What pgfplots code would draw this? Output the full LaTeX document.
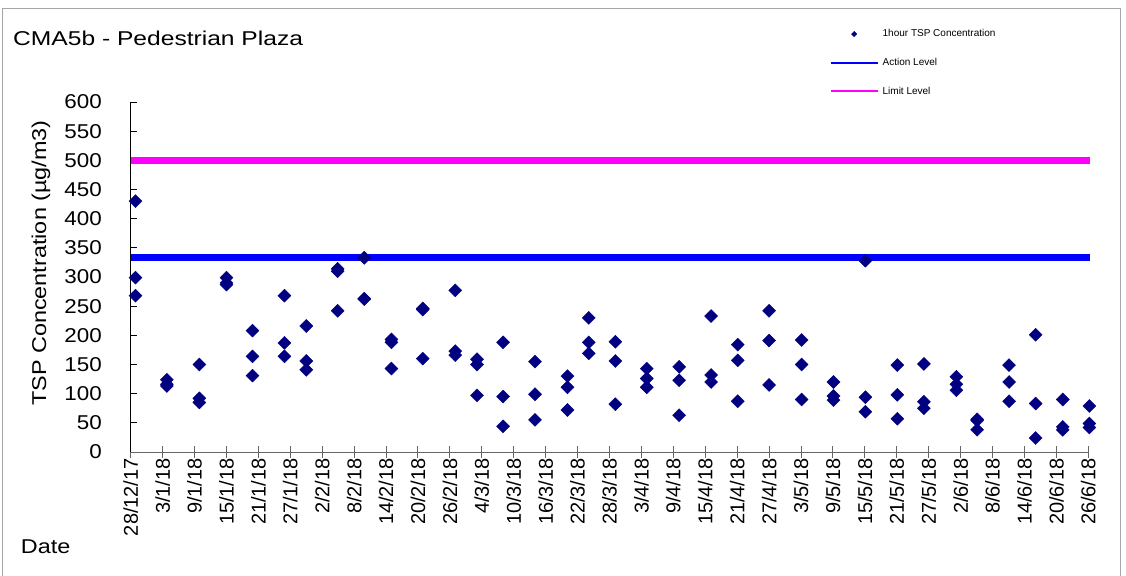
\documentclass[border=0pt]{standalone}
\usepackage{pgfplots}
\pgfplotsset{compat=1.18}
\usepackage{fontspec}
\setmainfont{Liberation Sans}
\usepackage{graphicx}
\definecolor{navyd}{RGB}{0,0,128}
\definecolor{actblue}{RGB}{0,0,255}
\definecolor{limmag}{RGB}{255,0,255}
\pgfplotstableread{
x y
0.9 430
0.9 299
0.9 268
6.8 124
6.8 116
6.8 113
12.9 150
12.9 92
12.9 85
18.0 299
18.0 290
18.0 287
22.9 208
22.9 164
22.9 131
28.9 268
28.9 187
28.9 164
33.0 216
33.0 156
33.0 141
38.9 314
38.9 310
38.9 242
43.9 333
43.9 263
43.9 262
49.0 193
49.0 188
49.0 143
54.9 246
54.9 244
54.9 160
61.0 277
61.0 173
61.0 166
65.1 159
65.1 150
65.1 97
70.0 188
70.0 95
70.0 44
76.0 155
76.0 99
76.0 55
82.1 130
82.1 111
82.1 72
86.1 230
86.1 188
86.1 169
91.1 189
91.1 156
91.1 82
97.0 143
97.0 126
97.0 111
103.1 146
103.1 123
103.1 63
109.1 233
109.1 132
109.1 120
114.1 184
114.1 157
114.1 87
120.0 242
120.0 191
120.0 115
126.1 192
126.1 150
126.1 90
132.1 120
132.1 96
132.1 89
138.1 328
138.1 94
138.1 69
144.1 149
144.1 98
144.1 57
149.1 151
149.1 86
149.1 75
155.2 129
155.2 116
155.2 106
159.1 56
159.1 54
159.1 38
165.1 149
165.1 120
165.1 87
170.1 201
170.1 83
170.1 24
175.2 90
175.2 43
175.2 38
180.2 79
180.2 49
180.2 42
}\tspdata
\begin{document}
\begin{tikzpicture}
\useasboundingbox (0bp,0bp) rectangle (1126bp,576bp);
\draw[gray!70, line width=1bp] (2.7bp,-2bp) -- (2.7bp,567.7bp) -- (1120.5bp,567.7bp) -- (1120.5bp,-2bp);
\begin{axis}[
  at={(130.7bp,124bp)}, anchor=south west,
  scale only axis, width=957.6bp, height=350bp,
  xmin=0, xmax=180, ymin=0, ymax=600,
  clip=false,
  axis x line*=bottom, axis y line*=left,
  axis line style={-, line width=1bp},
  x axis line style={draw=gray!80!black},
  xtick={0,6,...,180},
  xticklabels={28/12/17,3/1/18,9/1/18,15/1/18,21/1/18,27/1/18,2/2/18,8/2/18,14/2/18,20/2/18,26/2/18,4/3/18,10/3/18,16/3/18,22/3/18,28/3/18,3/4/18,9/4/18,15/4/18,21/4/18,27/4/18,3/5/18,9/5/18,15/5/18,21/5/18,27/5/18,2/6/18,8/6/18,14/6/18,20/6/18,26/6/18},
  ytick={0,50,...,600},
  yticklabel={\scalebox{1.12}[1]{\pgfmathprintnumber[assume math mode=true]{\tick}}},
  xtick align=center, ytick align=inside,
  major tick length=12bp,
  xtick style={draw=gray!80!black, line width=1bp},
  ytick style={draw=black, line width=1bp, /pgfplots/major tick length=6.7bp},
  minor tick num=0,
  xticklabel style={font=\fontsize{20bp}{24bp}\selectfont, rotate=90, anchor=east, inner sep=0pt},
  yticklabel style={font=\fontsize{20bp}{24bp}\selectfont, anchor=east, inner sep=0pt, xshift=-28.7bp},
  legend style={at={(0.7297,1.2129)}, anchor=north west, draw=none, fill=none,
    font=\fontsize{10bp}{12bp}\selectfont, row sep=16bp, column sep=2bp, inner sep=0pt},
  legend cell align=left,
]
\addplot[actblue, line width=7bp, forget plot] coordinates {(0,333) (180.4,333)};
\addplot[limmag, line width=7bp, forget plot] coordinates {(0,500) (180.4,500)};
\addplot[only marks, mark=square*, mark size=4.6bp, mark options={rotate=45, fill=navyd, draw=navyd}, forget plot] table[x=x,y=y] {\tspdata};
\addlegendimage{legend image code/.code={\path[draw=none] (0bp,0bp) -- (47bp,0bp); \path plot[only marks, mark=square*, mark size=1.9bp, mark options={rotate=45, fill=navyd, draw=navyd}] coordinates {(23.5bp,0bp)};}}
\addlegendentry{1hour TSP Concentration}
\addlegendimage{legend image code/.code={\draw[actblue, line width=2bp] (0bp,0bp) -- (47bp,0bp);}}
\addlegendentry{Action Level}
\addlegendimage{legend image code/.code={\draw[limmag, line width=2bp] (0bp,0bp) -- (47bp,0bp);}}
\addlegendentry{Limit Level}
\end{axis}
\node[anchor=base west, inner sep=0pt, font=\fontsize{20bp}{24bp}\selectfont] at (13bp,530.3bp) {\scalebox{1.23}[1]{CMA5b - Pedestrian Plaza}};
\node[anchor=base, rotate=90, inner sep=0pt, font=\fontsize{20bp}{24bp}\selectfont] at (46bp,313bp) {\scalebox{1.17}[1]{TSP Concentration (µg/m3)}};
\node[anchor=base west, inner sep=0pt, font=\fontsize{20bp}{24bp}\selectfont] at (20.7bp,23bp) {\scalebox{1.17}[1]{Date}};
\end{tikzpicture}
\end{document}
